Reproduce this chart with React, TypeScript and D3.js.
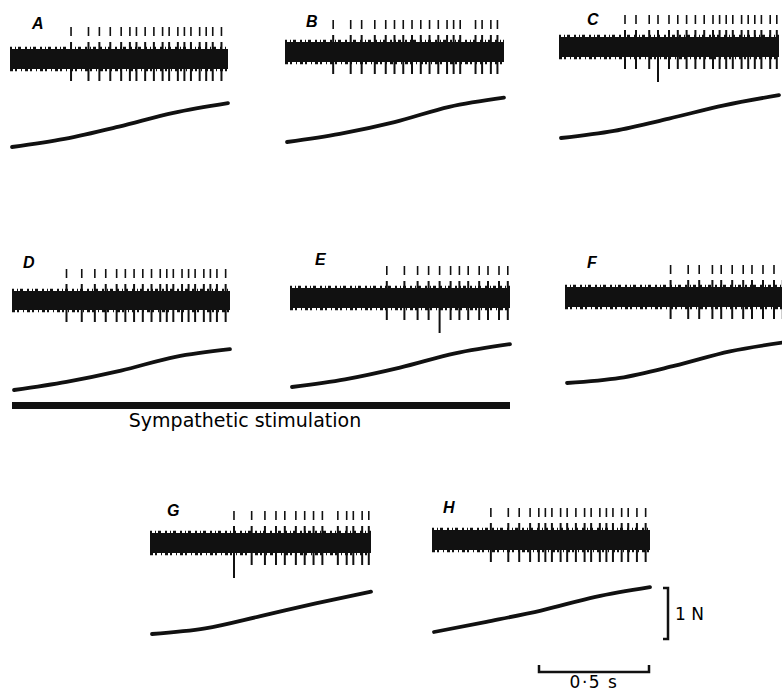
import React, { useEffect, useRef } from 'react';
import * as d3 from 'd3';

// Panel labels
const panelIds = ['A', 'B', 'C', 'D', 'E', 'F', 'G', 'H'];

// Spike (large motor unit) times within each ~1 s sweep, in seconds
const spikesA = [0.28, 0.36, 0.41, 0.46, 0.51, 0.55, 0.58, 0.62, 0.66, 0.70, 0.73, 0.77, 0.80, 0.83, 0.87, 0.90, 0.93, 0.97];
const spikesB = [0.22, 0.30, 0.35, 0.41, 0.46, 0.50, 0.54, 0.58, 0.62, 0.66, 0.70, 0.74, 0.77, 0.80, 0.87, 0.90, 0.94, 0.97];
const spikesC = [0.30, 0.35, 0.41, 0.45, 0.50, 0.54, 0.58, 0.62, 0.66, 0.70, 0.73, 0.76, 0.79, 0.83, 0.86, 0.89, 0.92, 0.96, 0.99];
const spikesD = [0.25, 0.32, 0.38, 0.43, 0.48, 0.52, 0.56, 0.60, 0.64, 0.68, 0.71, 0.74, 0.78, 0.81, 0.84, 0.88, 0.91, 0.94, 0.98];
const spikesE = [0.44, 0.52, 0.58, 0.63, 0.68, 0.73, 0.77, 0.81, 0.86, 0.90, 0.95, 0.99];
const spikesF = [0.48, 0.56, 0.61, 0.67, 0.71, 0.76, 0.81, 0.85, 0.90, 0.95, 0.99];
const spikesG = [0.38, 0.46, 0.52, 0.57, 0.61, 0.66, 0.70, 0.74, 0.78, 0.85, 0.89, 0.92, 0.96, 0.99];
const spikesH = [0.27, 0.35, 0.40, 0.45, 0.49, 0.52, 0.55, 0.59, 0.62, 0.66, 0.70, 0.73, 0.77, 0.80, 0.83, 0.87, 0.90, 0.94, 0.98];

// Spikes with a much deeper negative deflection
const bigSpikes = [[], [], [0.45], [], [0.68], [], [0.38], []];

// Force trace (N above start level) at these sweep times
const forceTimes = [0, 0.25, 0.5, 0.75, 1];
const forceA = [0, 0.16, 0.40, 0.67, 0.86];
const forceB = [0, 0.16, 0.39, 0.69, 0.87];
const forceC = [0, 0.14, 0.38, 0.64, 0.84];
const forceD = [0, 0.16, 0.38, 0.65, 0.80];
const forceE = [0, 0.15, 0.38, 0.66, 0.84];
const forceF = [0, 0.10, 0.34, 0.62, 0.80];
const forceG = [0, 0.11, 0.35, 0.60, 0.83];
const forceH = [0, 0.20, 0.42, 0.69, 0.88];

const spikes = [spikesA, spikesB, spikesC, spikesD, spikesE, spikesF, spikesG, spikesH];
const forces = [forceA, forceB, forceC, forceD, forceE, forceF, forceG, forceH];

// layout of each panel: band left/right, band top/bottom, force zero line, label
const layout = [
  { x0: 10, x1: 228, top: 49, bot: 69, fy: 147, lx: 32, ly: 29 },
  { x0: 285, x1: 504, top: 42, bot: 62, fy: 142, lx: 306, ly: 27 },
  { x0: 559, x1: 779, top: 37, bot: 57, fy: 138, lx: 587, ly: 25 },
  { x0: 12, x1: 230, top: 291, bot: 310, fy: 390, lx: 23, ly: 268 },
  { x0: 290, x1: 510, top: 288, bot: 308, fy: 387, lx: 315, ly: 265 },
  { x0: 565, x1: 785, top: 287, bot: 307, fy: 383, lx: 587, ly: 268 },
  { x0: 150, x1: 371, top: 533, bot: 553, fy: 634, lx: 167, ly: 516 },
  { x0: 432, x1: 650, top: 530, bot: 550, fy: 632, lx: 443, ly: 513 },
];

const pxPerNewton = 51;
const pxPerSecond = 220;

const App = () => {
  const ref = useRef(null);

  useEffect(() => {
    const svg = d3.select(ref.current);
    svg.selectAll('*').remove();

    panelIds.forEach((id, i) => {
      const L = layout[i];
      const g = svg.append('g');
      const x = d3.scaleLinear().domain([0, 1]).range([L.x0, L.x1]);
      const y = d3.scaleLinear().domain([0, 1]).range([L.fy, L.fy - pxPerNewton]);

      // label
      g.append('text')
        .attr('x', L.lx).attr('y', L.ly)
        .attr('font-family', 'Liberation Sans, Arial, sans-serif')
        .attr('font-style', 'italic').attr('font-weight', 'bold')
        .attr('font-size', 16)
        .text(id);

      // EMG band
      g.append('rect')
        .attr('x', x(0)).attr('y', L.top)
        .attr('width', x(1) - x(0)).attr('height', L.bot - L.top)
        .attr('fill', '#111');
      // ragged edges
      g.append('line')
        .attr('x1', x(0)).attr('x2', x(1))
        .attr('y1', L.top - 1).attr('y2', L.top - 1)
        .attr('stroke', '#111').attr('stroke-width', 2.5)
        .attr('stroke-dasharray', '2 3 1 2 3 4');
      g.append('line')
        .attr('x1', x(0)).attr('x2', x(1))
        .attr('y1', L.bot + 1).attr('y2', L.bot + 1)
        .attr('stroke', '#111').attr('stroke-width', 2.5)
        .attr('stroke-dasharray', '3 2 2 4 1 3');

      const sp = g.append('g').attr('stroke', '#111').attr('stroke-width', 2);
      spikes[i].forEach(t => {
        const sx = x(t);
        sp.append('line').attr('x1', sx).attr('x2', sx)
          .attr('y1', L.top - 22).attr('y2', L.top - 13)
          .attr('stroke-width', 1.6);
        sp.append('line').attr('x1', sx).attr('x2', sx)
          .attr('y1', L.top - 7).attr('y2', L.top);
        const deep = bigSpikes[i].includes(t);
        sp.append('line').attr('x1', sx).attr('x2', sx)
          .attr('y1', L.bot).attr('y2', L.bot + (deep ? 25 : 12));
      });

      // force ramp
      const line = d3.line<number>()
        .x((d, k) => x(forceTimes[k]) + (k === 0 ? 2 : 0))
        .y(d => y(d))
        .curve(d3.curveMonotoneX);
      g.append('path')
        .datum(forces[i])
        .attr('fill', 'none')
        .attr('stroke', '#111')
        .attr('stroke-width', 3.8)
        .attr('stroke-linecap', 'round')
        .attr('d', line);
    });

    // sympathetic stimulation bar (spans D to E)
    svg.append('rect')
      .attr('x', 12).attr('y', 402).attr('width', 498).attr('height', 7)
      .attr('fill', '#111');
    svg.append('text')
      .attr('x', 245).attr('y', 427)
      .attr('text-anchor', 'middle')
      .attr('font-family', 'DejaVu Sans, sans-serif')
      .attr('font-size', 19)
      .text('Sympathetic stimulation');

    // scale bars
    const fTop = 588;
    const fBot = fTop + pxPerNewton;
    const sb = svg.append('g').attr('stroke', '#111').attr('stroke-width', 2.5).attr('fill', 'none');
    sb.append('path').attr('d', `M663,${fTop} H668 V${fBot} H663`);
    svg.append('text')
      .attr('x', 675).attr('y', 620)
      .attr('font-family', 'DejaVu Sans, sans-serif')
      .attr('font-size', 17)
      .text('1 N');

    const tx0 = 539;
    const tx1 = tx0 + pxPerSecond * 0.5;
    sb.append('path').attr('d', `M${tx0},665 V672 H${tx1} V665`);
    svg.append('text')
      .attr('x', (tx0 + tx1) / 2).attr('y', 688)
      .attr('text-anchor', 'middle')
      .attr('font-family', 'DejaVu Sans, sans-serif')
      .attr('font-size', 17)
      .attr('letter-spacing', 1.5)
      .text('0·5 s');
  }, []);

  return (
    <svg ref={ref} width={782} height={692}
      style={{ position: 'absolute', left: 0, top: 0, background: '#fff' }} />
  );
};

export default App;
